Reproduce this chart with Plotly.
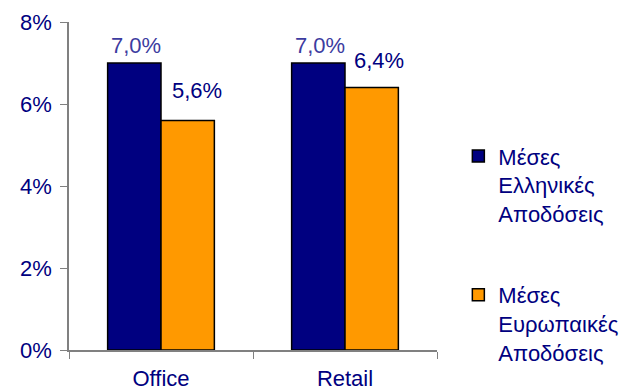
import plotly.graph_objects as go

categories = ["Office", "Retail"]
greek_values = [0.070, 0.070]
euro_values = [0.056, 0.064]
series_names = ["Μέσες<br>Ελληνικές<br>Αποδόσεις", "Μέσες<br>Ευρωπαικές<br>Αποδόσεις"]
tick_vals = [0, 0.02, 0.04, 0.06, 0.08]

NAVY = "#000080"
ORANGE = "#FF9900"
FONT = "Liberation Sans, Arial, sans-serif"
FS = 22

fig = go.Figure()
fig.add_bar(x=categories, y=greek_values, name=series_names[0], legendgroup="a",
            marker=dict(color=NAVY, line=dict(color="black", width=1.5)))
fig.add_bar(x=categories, y=euro_values, name=series_names[1], legendgroup="b",
            marker=dict(color=ORANGE, line=dict(color="black", width=1.5)))

def fmt(v):
    return f"{v*100:.1f}".replace(".", ",") + "%"

half = (1 - 0.42) / 4
for i, v in enumerate(greek_values):
    fig.add_annotation(x=i - half, y=v, xref="x", yref="y", text=fmt(v), showarrow=False,
                       yanchor="bottom", xshift=2, yshift=3,
                       font=dict(family=FONT, size=FS, color="#3c3ca0"))
eu_shift = [(9, 15), (7, 13)]
for i, v in enumerate(euro_values):
    fig.add_annotation(x=i + half, y=v, xref="x", yref="y", text=fmt(v), showarrow=False,
                       yanchor="bottom", xshift=eu_shift[i][0], yshift=eu_shift[i][1],
                       font=dict(family=FONT, size=FS, color=NAVY))

fig.update_layout(
    width=623, height=391,
    margin=dict(l=69, r=186, t=22, b=41, autoexpand=False),
    paper_bgcolor="white", plot_bgcolor="white",
    barmode="group", bargap=0.42, bargroupgap=0,
    font=dict(family=FONT, size=FS, color=NAVY),
    legend=dict(x=1.058, y=0.655, xanchor="left", yanchor="top",
                valign="top", tracegroupgap=50, traceorder="grouped",
                font=dict(family=FONT, size=FS, color=NAVY)),
    showlegend=True,
)
fig.update_yaxes(range=[0, 0.08], tickvals=tick_vals, tickformat=".0%",
                 showgrid=False, showline=True, linecolor="#808080", linewidth=1.5,
                 ticks="outside", ticklen=7, tickcolor="#808080", ticklabelstandoff=4,
                 zeroline=False, automargin=False)
fig.update_xaxes(showgrid=False, showline=True, linecolor="#808080", linewidth=1.5,
                 ticks="outside", ticklen=7, tickcolor="#808080", tickson="boundaries",
                 ticklabelstandoff=8, automargin=False)

fig.write_html("out.html")
